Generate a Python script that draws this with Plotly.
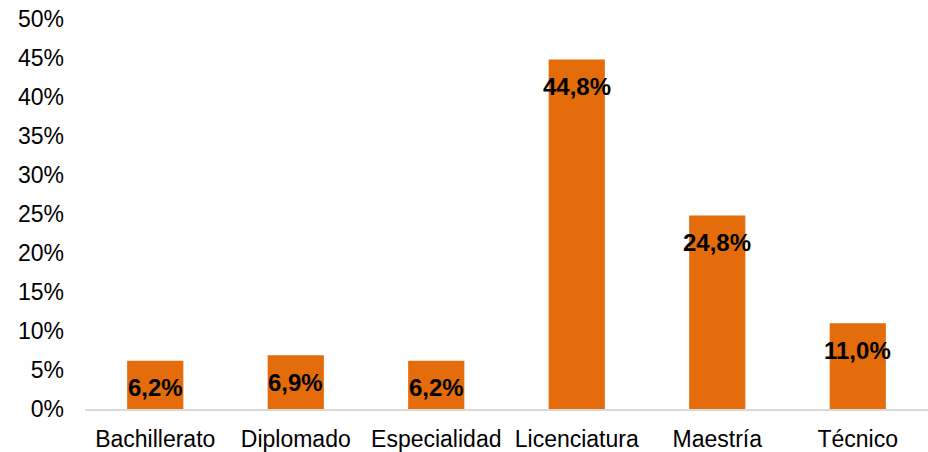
import plotly.graph_objects as go

# Nivel de estudios: share of respondents per category (percent)
categorias = ["Bachillerato", "Diplomado", "Especialidad", "Licenciatura", "Maestría", "Técnico"]
porcentajes = [6.2, 6.9, 6.2, 44.8, 24.8, 11.0]
ticks_y = [0, 5, 10, 15, 20, 25, 30, 35, 40, 45, 50]

FONT = "Liberation Sans, Arial, sans-serif"
NARANJA = "#E46C0A"

fig = go.Figure(
    go.Bar(
        x=categorias,
        y=porcentajes,
        marker=dict(color=NARANJA, line=dict(width=0)),
        hoverinfo="skip",
    )
)

# value labels sitting just below each bar's top, written with a decimal comma
for cat, val in zip(categorias, porcentajes):
    fig.add_annotation(
        x=cat,
        y=val,
        text=f"{val:.1f}%".replace(".", ","),
        showarrow=False,
        yanchor="middle",
        yshift=-27,
        font=dict(family=FONT, size=24, color="#000000", weight="bold"),
    )

fig.update_layout(
    width=928,
    height=452,
    margin=dict(l=85, r=0, t=19, b=43),
    paper_bgcolor="white",
    plot_bgcolor="white",
    bargap=0.6,
    showlegend=False,
    font=dict(family=FONT, size=23, color="#000000"),
    xaxis=dict(
        showline=True,
        linecolor="#D9D9D9",
        linewidth=2,
        showgrid=False,
        ticks="",
        ticklabelstandoff=8,
        tickfont=dict(size=23),
    ),
    yaxis=dict(
        range=[0, 50],
        tickvals=ticks_y,
        ticktext=[f"{t}%" for t in ticks_y],
        showgrid=False,
        zeroline=False,
        showline=False,
        ticks="",
        ticklabelstandoff=20,
        tickfont=dict(size=23),
    ),
)

fig.write_html("out.html")
